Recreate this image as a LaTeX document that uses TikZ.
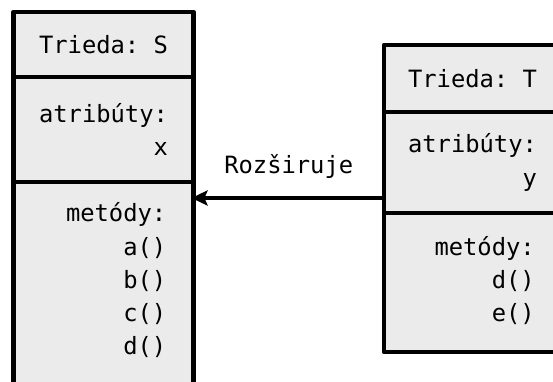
\documentclass[tikz,border=0pt]{standalone}
\usepackage{fontspec}
\setmonofont{DejaVu Sans Mono}
\usepackage{xcolor}
\usetikzlibrary{positioning,arrows.meta}
\definecolor{boxgray}{HTML}{EBEBEB}

\begin{document}
\begin{tikzpicture}[x=1pt,y=-1pt,
	part/.style={draw,line width=4.5pt,line join=round,fill=boxgray,minimum width=177pt,inner sep=0pt,outer sep=0pt},
	txt/.style={font=\ttfamily\fontsize{23.8}{33.3}\selectfont,align=right,inner sep=0pt},
	extarrow/.style={line width=4.5pt,shorten >=-2pt,-{Stealth[length=16pt,width=15pt,inset=3pt]}}]
		
		\useasboundingbox
		(0,0)
		rectangle
		(553,381);
		
		\clip
		(0,0)
		rectangle
		(553,381);
		
		% trieda S
		\node[part,minimum width=180pt,minimum height=65pt,anchor=north west] (sname) at (13.5,12) {};
		\node[part,minimum width=180pt,minimum height=105pt,below=0pt of sname] (sattr) {};
		\node[part,minimum width=180pt,minimum height=220pt,below=0pt of sattr] (smeth) {};
		
		\node[txt] at (sname)
		{Trieda: S};
		
		\node[txt] at (sattr)
		{atribúty:\\x};
		
		\node[txt,anchor=north east] at ([xshift=-27pt,yshift=-20.5pt]smeth.north east)
		{metódy:\\a()\\b()\\c()\\d()};
		
		% trieda T
		\node[part,minimum height=67pt,anchor=north west] (tname) at (384,45) {};
		\node[part,minimum height=101pt,below=0pt of tname] (tattr) {};
		\node[part,minimum height=139pt,below=0pt of tattr] (tmeth) {};
		
		\node[txt] at (tname)
		{Trieda: T};
		
		\node[txt] at (tattr)
		{atribúty:\\y};
		
		\node[txt,anchor=north east] at ([xshift=-26pt,yshift=-23pt]tmeth.north east)
		{metódy:\\d()\\e()};
		
		% dedenie
		\coordinate (ext) at (0,198);
		
		\draw[extarrow] (tattr.west |- ext)
		-- node[txt,above=17.5pt] {Rozširuje}
		(smeth.east |- ext);
		
	\end{tikzpicture}
\end{document}
